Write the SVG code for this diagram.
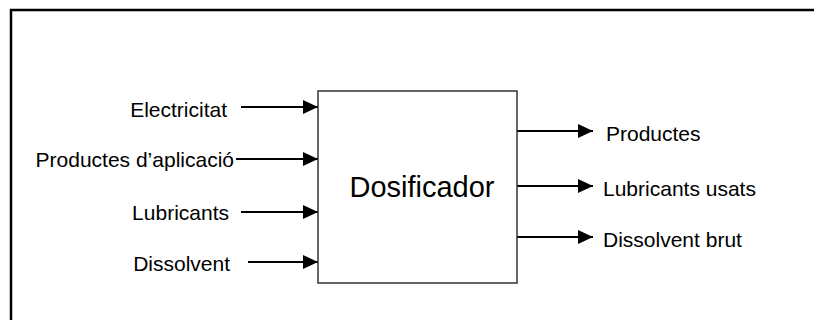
<svg xmlns="http://www.w3.org/2000/svg" width="814" height="320" viewBox="0 0 814 320">
<style>
  .lbl { font-family: "Liberation Sans", Arial, sans-serif; font-size: 21px; fill: #000; }
  .title { font-family: "Liberation Sans", Arial, sans-serif; font-size: 29px; fill: #000; }
  .conn { stroke: #000; stroke-width: 2; fill: none; marker-end: url(#arrow); }
  .box { fill: #fff; stroke: #333; stroke-width: 1.5; }
</style>
<defs>
  <marker id="arrow" markerUnits="userSpaceOnUse" markerWidth="16" markerHeight="16" refX="15" refY="7" orient="auto">
    <path d="M0,0 L15,7 L0,14 Z" fill="#000"/>
  </marker>
</defs>
<rect width="814" height="320" fill="#fff"/>
<g id="frame">
  <path d="M11,320 L11,10 L814,10" fill="none" stroke="#000" stroke-width="2.5"/>
</g>
<g id="connectors">
  <line class="conn" x1="241" y1="107" x2="318" y2="107"/>
  <line class="conn" x1="236" y1="159" x2="318" y2="159"/>
  <line class="conn" x1="241" y1="212" x2="318" y2="212"/>
  <line class="conn" x1="248" y1="262" x2="318" y2="262"/>
  <line class="conn" x1="517" y1="131" x2="593" y2="131"/>
  <line class="conn" x1="517" y1="186" x2="593" y2="186"/>
  <line class="conn" x1="515" y1="237" x2="593" y2="237"/>
</g>
<g id="dosificador">
  <rect class="box" x="318" y="91" width="199" height="192"/>
  <text class="title" x="422" y="197" text-anchor="middle">Dosificador</text>
</g>
<g id="in-electricitat"><text class="lbl" x="227" y="116.5" text-anchor="end">Electricitat</text></g>
<g id="in-productes-aplicacio"><text class="lbl" x="234" y="166.5" text-anchor="end">Productes d’aplicació</text></g>
<g id="in-lubricants"><text class="lbl" x="229" y="219.5" text-anchor="end">Lubricants</text></g>
<g id="in-dissolvent"><text class="lbl" x="230" y="271" text-anchor="end">Dissolvent</text></g>
<g id="out-productes"><text class="lbl" x="606" y="141">Productes</text></g>
<g id="out-lubricants-usats"><text class="lbl" x="603" y="196">Lubricants usats</text></g>
<g id="out-dissolvent-brut"><text class="lbl" x="603" y="247">Dissolvent brut</text></g>
</svg>
